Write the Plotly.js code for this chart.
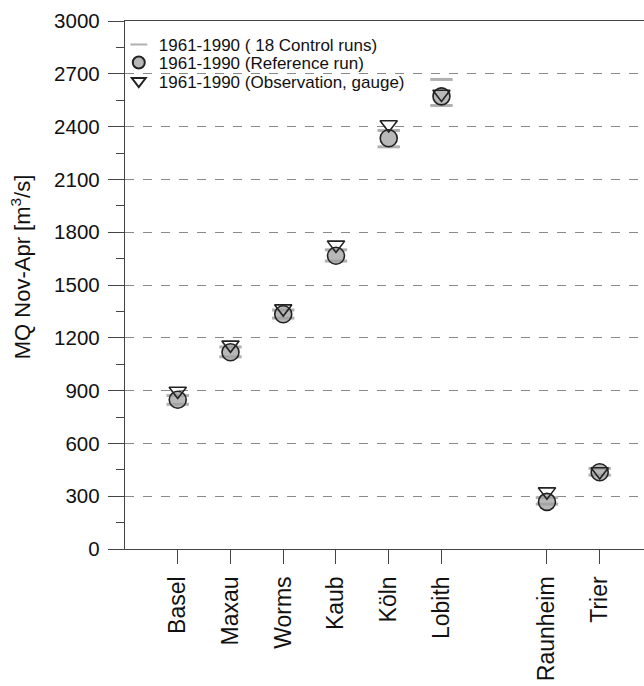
<!DOCTYPE html>
<html>
<head>
<meta charset="utf-8">
<script src="https://cdn.plot.ly/plotly-3.0.1.min.js"></script>
<style>html,body{margin:0;padding:0;background:#fff;}#chart{width:644px;height:686px;}</style>
</head>
<body>
<div id="chart"></div>
<script>
const stations = ["Basel","Maxau","Worms","Kaub","Köln","Lobith","Raunheim","Trier"];
const stationPos = [1,2,3,4,5,6,8,9];
const referenceRun = [848,1118,1334,1666,2334,2572,268,436];
const observation = [898,1160,1366,1728,2412,2585,326,440];
const controlMin = [822,1092,1312,1636,2285,2520,255,420];
const controlMax = [872,1148,1358,1700,2378,2668,292,458];
const yTicks = [0,300,600,900,1200,1500,1800,2100,2400,2700,3000];
const yTitle = "MQ Nov-Apr [m<sup>3</sup>/s]";

const ctrlX = stationPos.concat(stationPos);
const ctrlY = controlMin.concat(controlMax);

const traces = [
  {
    x: ctrlX, y: ctrlY, type: "scatter", mode: "markers",
    name: "1961-1990 ( 18 Control runs)", legend: "legend",
    marker: {symbol: "line-ew", size: 16, line: {color: "#b0b0b0", width: 3}},
    hoverinfo: "y"
  },
  {
    x: stationPos, y: referenceRun, type: "scatter", mode: "markers",
    name: "1961-1990 (Reference run)", legend: "legend2",
    marker: {symbol: "circle", size: 17, color: "rgba(160,160,160,0.75)", line: {color: "#222", width: 1.6}}
  },
  {
    x: stationPos, y: observation, type: "scatter", mode: "markers",
    name: "1961-1990 (Observation, gauge)", legend: "legend3",
    marker: {symbol: "triangle-down", size: 15, color: "rgba(255,255,255,0)", line: {color: "#222", width: 1.6}}
  }
];

function legendAt(y) {
  return {
    x: -0.012, y: y, xanchor: "left", yanchor: "middle",
    bgcolor: "rgba(255,255,255,0)", borderwidth: 0,
    font: {size: 17, color: "#111"}, itemsizing: "constant"
  };
}

const layout = {
  width: 644, height: 686,
  margin: {l: 125, r: 0, t: 21, b: 137},
  paper_bgcolor: "#fff", plot_bgcolor: "#fff",
  font: {family: "Liberation Sans, Arial, sans-serif", color: "#222"},
  showlegend: true,
  legend: legendAt(0.9545),
  legend2: legendAt(0.9205),
  legend3: legendAt(0.8854),
  xaxis: {
    range: [0, 9.84],
    tickmode: "array", tickvals: stationPos, ticktext: stations,
    tickangle: -90,
    ticks: "outside", ticklen: 14, tickwidth: 1, tickcolor: "#444",
    ticklabelstandoff: 3,
    tickfont: {size: 23, color: "#111"},
    showgrid: false, zeroline: false,
    showline: true, linecolor: "#444", linewidth: 1.2, mirror: true
  },
  yaxis: {
    range: [0, 3000],
    tickmode: "array", tickvals: yTicks,
    ticks: "outside", ticklen: 16, tickwidth: 1, tickcolor: "#444",
    ticklabelstandoff: 4,
    tickfont: {size: 20.5, color: "#111"},
    minor: {dtick: 150, tick0: 0, ticks: "outside", ticklen: 8, tickcolor: "#444", showgrid: false},
    showgrid: true, gridcolor: "#8a8a8a", griddash: "dash", gridwidth: 1,
    zeroline: false,
    showline: true, linecolor: "#444", linewidth: 1.2
  },
  annotations: [{
    text: yTitle, xref: "paper", yref: "paper",
    x: -0.2, y: 0.534, xanchor: "center", yanchor: "middle",
    textangle: -90, showarrow: false,
    font: {size: 22, color: "#111"}
  }]
};

Plotly.newPlot("chart", traces, layout, {displayModeBar: false, staticPlot: true});
</script>
</body>
</html>
